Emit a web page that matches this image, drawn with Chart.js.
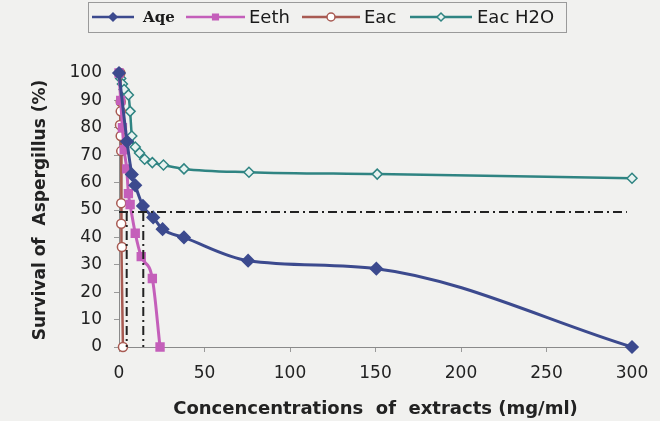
<!doctype html>
<html lang="en">
  <head>
    <meta charset="utf-8">
    <title>Survival of Aspergillus</title>
    <style>
      * { margin: 0; padding: 0; }
      body { background: #f1f1ef; width: 660px; height: 421px; overflow: hidden; }
    </style>
  </head>
  <body>
    <canvas id="myChart" width="660" height="421"></canvas>

    <script src="https://cdn.jsdelivr.net/npm/chart.js"></script>
    <script>
    // setup - values
    const aqeX = [0, 4.7, 7.5, 9.5, 14, 20, 25.5, 38, 75.5, 150.5, 300];
    const aqeY = [100, 75, 63, 59, 51.5, 47.3, 43, 40, 31.5, 28.6, 0];

    const eethX = [0, 1, 2, 3, 4.5, 5.5, 6.5, 9.5, 13, 19.5, 24];
    const eethY = [100, 90, 80, 72, 65, 56, 52, 41.5, 33, 25, 0];

    const eacX = [0.8, 1, 1, 0.6, 1, 1.3, 1.3, 1.3, 1.7, 2.3];
    const eacY = [100, 89.5, 86, 81, 77, 71.5, 52.5, 45, 36.5, 0];

    const h2oX = [0, 1, 2, 3, 5.5, 6.5, 7.5, 9.5, 12, 15, 19.5, 26, 38, 76, 151, 300];
    const h2oY = [100, 98, 96, 94, 92, 86, 77, 73, 70.8, 68.5, 67.3, 66.4, 65, 63.8, 63.1, 61.6];

    // dash-dot guide lines at 50 % survival
    const halfY = 49.3;
    const halfX = [4.5, 14.2];
    const halfEnd = 297;

    const xTicks = [0, 50, 100, 150, 200, 250, 300];

    const pts = (xs, ys) => xs.map((x, i) => ({ x: x, y: ys[i] }));

    const guide = (data) => ({
      label: '', data: data, borderColor: '#222', borderWidth: 2,
      borderDash: [9, 4, 2, 4], pointRadius: 0, tension: 0, clip: false
    });

    const data = {
      datasets: [
        guide([{ x: 0, y: halfY }, { x: halfEnd, y: halfY }]),
        guide([{ x: halfX[0], y: halfY }, { x: halfX[0], y: 0 }]),
        guide([{ x: halfX[1], y: halfY }, { x: halfX[1], y: 0 }]),
        {
          label: 'Aqe', data: pts(aqeX, aqeY),
          borderColor: '#3c4a8e', backgroundColor: '#3c4a8e', borderWidth: 3,
          pointStyle: 'rectRot', pointRadius: 5, cubicInterpolationMode: 'monotone', clip: false
        },
        {
          label: 'Eeth', data: pts(eethX, eethY),
          borderColor: '#c45fba', backgroundColor: '#c45fba', borderWidth: 3,
          pointStyle: 'rect', pointRadius: 4.5, cubicInterpolationMode: 'monotone', clip: false
        },
        {
          label: 'Eac', data: pts(eacX, eacY),
          borderColor: '#a85a52', backgroundColor: '#ffffff', borderWidth: 2.5,
          pointStyle: 'circle', pointRadius: 4.5, pointBorderWidth: 1.5, tension: 0, clip: false
        },
        {
          label: 'Eac H2O', data: pts(h2oX, h2oY),
          borderColor: '#2f8482', backgroundColor: '#e8f2f0', borderWidth: 2.5,
          pointStyle: 'rectRot', pointRadius: 5, pointBorderWidth: 1.5,
          cubicInterpolationMode: 'monotone', clip: false
        }
      ]
    };

    // boxed legend at the top, "Aqe" in its own small bold serif face
    const boxLegend = {
      id: 'boxLegend',
      afterDraw(chart) {
        const { ctx } = chart;
        ctx.save();
        ctx.strokeStyle = '#9a9a9a';
        ctx.lineWidth = 1;
        ctx.strokeRect(88.5, 2.5, 478, 30);

        const items = [
          { ds: 3, x0: 92, x1: 134, tx: 143, font: 'bold 15px "DejaVu Serif"' },
          { ds: 4, x0: 186, x1: 245, tx: 249, font: '18px "DejaVu Sans"' },
          { ds: 5, x0: 302, x1: 360, tx: 364, font: '18px "DejaVu Sans"' },
          { ds: 6, x0: 410, x1: 472, tx: 477, font: '18px "DejaVu Sans"' }
        ];
        const y = 17;
        items.forEach(it => {
          const ds = chart.data.datasets[it.ds];
          ctx.strokeStyle = ds.borderColor;
          ctx.lineWidth = 2.5;
          ctx.beginPath();
          ctx.moveTo(it.x0, y);
          ctx.lineTo(it.x1, y);
          ctx.stroke();
          ctx.fillStyle = ds.backgroundColor;
          ctx.lineWidth = 1.5;
          Chart.helpers.drawPoint(ctx, { pointStyle: ds.pointStyle, radius: 4, borderWidth: 1.5 }, (it.x0 + it.x1) / 2, y);
          ctx.font = it.font;
          ctx.fillStyle = '#1a1a1a';
          ctx.textBaseline = 'middle';
          ctx.fillText(ds.label, it.tx, y + 1);
        });
        ctx.restore();
      }
    };

    const tickFont = { family: '"DejaVu Sans", Arial', size: 17 };

    // config
    const config = {
      type: 'line',
      data,
      options: {
        responsive: false,
        animation: false,
        layout: { padding: { top: 73, right: 28, left: 30, bottom: 0 } },
        plugins: {
          legend: { display: false },
          tooltip: { enabled: false }
        },
        scales: {
          x: {
            type: 'linear', min: 0, max: 300,
            afterBuildTicks: (scale) => { scale.ticks = xTicks.map(v => ({ value: v })); },
            afterFit: (scale) => { scale.height = 74; },
            grid: { display: true, drawOnChartArea: false, drawTicks: true, tickLength: 5, color: '#9a9a9a' },
            border: { display: true, color: '#8a8a8a', width: 1 },
            ticks: { color: '#222', font: tickFont, padding: 11, maxRotation: 0 },
            title: {
              display: true, text: 'Concencentrations  of  extracts (mg/ml)',
              color: '#222', font: { family: '"DejaVu Sans", Arial', size: 18, weight: 'bold' },
              padding: { top: 2, bottom: 1 }
            }
          },
          y: {
            min: 0, max: 100,
            afterFit: (scale) => { scale.width = 89; },
            grid: { display: true, drawOnChartArea: false, drawTicks: true, tickLength: 5, color: '#9a9a9a' },
            border: { display: true, color: '#8a8a8a', width: 1 },
            ticks: { stepSize: 10, color: '#222', font: tickFont, padding: 12 },
            title: {
              display: true, text: 'Survival of  Aspergillus (%)',
              color: '#222', font: { family: '"DejaVu Sans", Arial', size: 17, weight: 'bold' },
              padding: { top: 0, bottom: 4 }
            }
          }
        }
      },
      plugins: [boxLegend]
    };

    // render init block
    const myChart = new Chart(document.getElementById('myChart'), config);
    </script>
  </body>
</html>
